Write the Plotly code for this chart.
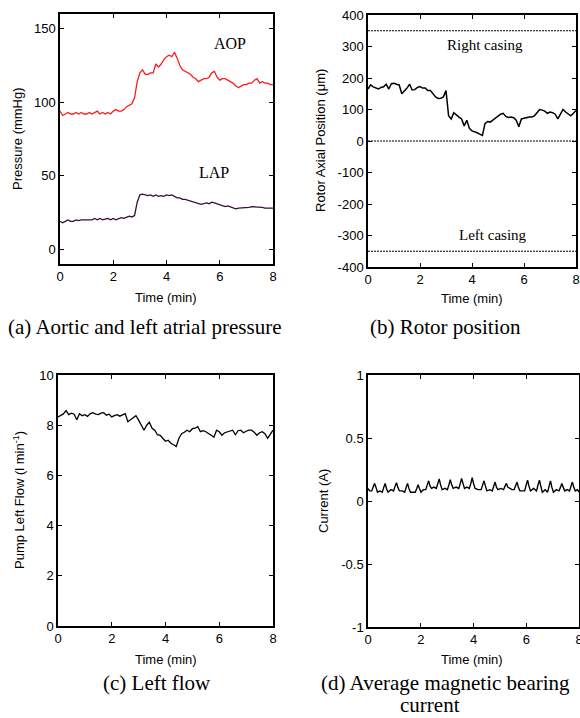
import plotly.graph_objects as go

# ---------------- data ----------------
time_min = [round(i * 0.1, 1) for i in range(81)]

aop = [94, 91, 92, 93, 92, 92, 93, 92, 93, 92,
       92, 93, 92, 93, 94, 92, 93, 92, 93, 92,
       94, 95, 94, 94, 95, 97, 98, 99, 103, 114,
       120, 122, 119, 119, 120, 120, 126, 124, 126, 129,
       131, 132, 131, 134, 130, 125, 122, 121, 120, 119,
       117, 116, 114, 115, 116, 116, 117, 120, 121, 117,
       115, 116, 116, 115, 114, 113, 111, 110, 111, 112,
       112, 113, 113, 115, 116, 113, 114, 113, 113, 112, 112]

lap = [19, 18, 19, 20, 19, 19, 20, 19.5, 20, 20,
       20, 20.5, 20, 21, 20, 21, 20, 20.5, 21, 20,
       21, 20, 21, 21.5, 21, 22, 22.5, 22, 23, 32,
       37, 37.5, 37, 36.5, 37, 36, 37, 36, 36.5, 36,
       37, 36.5, 37, 36, 35, 35, 34, 34, 33.5, 33,
       32.5, 32, 31, 30.5, 31, 31.5, 31, 32, 31.5, 31,
       30, 30, 29, 29.5, 29, 28, 27.5, 28, 28, 28.5,
       28, 28.5, 29, 29, 28.5, 29, 28.5, 28, 28, 27.5, 28]

rotor_um = [165, 178, 172, 168, 165, 170, 172, 180, 165, 182,
            183, 180, 178, 150, 158, 168, 180, 162, 163, 170,
            173, 168, 168, 160, 160, 150, 140, 135, 136, 140,
            160, 80, 70, 90, 82, 76, 70, 48, 66, 40,
            32, 30, 26, 22, 18, 55, 62, 60, 66, 72,
            80, 85, 88, 78, 75, 76, 74, 66, 45, 70,
            72, 75, 76, 76, 80, 90, 100, 98, 95, 88,
            92, 90, 85, 70, 85, 100, 92, 86, 80, 88, 97]

casing_levels = [350, 0, -350]

flow = [8.33, 8.40, 8.45, 8.58, 8.42, 8.48, 8.44, 8.22, 8.46, 8.38,
        8.42, 8.35, 8.46, 8.50, 8.44, 8.42, 8.48, 8.50, 8.40, 8.44,
        8.33, 8.38, 8.42, 8.36, 8.40, 8.46, 8.14, 8.22, 8.28, 8.38,
        8.20, 7.98, 7.80, 8.00, 8.12, 7.88, 7.80, 7.62, 7.60, 7.48,
        7.36, 7.40, 7.28, 7.22, 7.15, 7.48, 7.66, 7.72, 7.80, 7.74,
        7.86, 7.88, 7.94, 7.74, 7.78, 7.74, 7.68, 7.60, 7.52, 7.80,
        7.74, 7.60, 7.70, 7.74, 7.78, 7.80, 7.62, 7.78, 7.80, 7.70,
        7.76, 7.80, 7.80, 7.72, 7.60, 7.70, 7.74, 7.66, 7.48, 7.62, 7.80]

current_time = [0.0, 0.06,
                0.14, 0.2, 0.25, 0.3, 0.36, 0.45,
                0.54, 0.6, 0.65, 0.7, 0.76, 0.87,
                0.97, 1.03, 1.08, 1.13, 1.19, 1.3,
                1.39, 1.45, 1.5, 1.55, 1.61, 1.7,
                1.79, 1.85, 1.9, 1.95, 2.01, 2.1,
                2.19, 2.25, 2.3, 2.35, 2.41, 2.5,
                2.59, 2.65, 2.7, 2.75, 2.81, 2.92,
                3.01, 3.07, 3.12, 3.17, 3.23, 3.34,
                3.44, 3.5, 3.55, 3.6, 3.66, 3.75,
                3.84, 3.9, 3.95, 4.0, 4.06, 4.18,
                4.29, 4.35, 4.4, 4.45, 4.51, 4.62,
                4.71, 4.77, 4.82, 4.87, 4.93, 5.04,
                5.14, 5.2, 5.25, 5.3, 5.36, 5.46,
                5.54, 5.6, 5.65, 5.7, 5.76, 5.86,
                5.94, 6.0, 6.05, 6.1, 6.16, 6.28,
                6.39, 6.45, 6.5, 6.55, 6.61, 6.72,
                6.81, 6.87, 6.92, 6.97, 7.03, 7.14,
                7.24, 7.3, 7.35, 7.4, 7.46, 7.55,
                7.64, 7.7, 7.75, 7.8, 7.86, 7.94,
                8.0]
current_a = [0.10, 0.08,
             0.08, 0.115, 0.14, 0.11, 0.07, 0.08,
             0.07, 0.11, 0.14, 0.10, 0.07, 0.09,
             0.08, 0.12, 0.145, 0.11, 0.08, 0.08,
             0.07, 0.11, 0.14, 0.10, 0.07, 0.07,
             0.07, 0.10, 0.13, 0.10, 0.07, 0.09,
             0.09, 0.13, 0.16, 0.12, 0.10, 0.11,
             0.10, 0.14, 0.175, 0.13, 0.09, 0.10,
             0.09, 0.13, 0.17, 0.13, 0.10, 0.11,
             0.10, 0.14, 0.18, 0.14, 0.10, 0.11,
             0.10, 0.14, 0.185, 0.14, 0.10, 0.09,
             0.09, 0.13, 0.16, 0.12, 0.08, 0.09,
             0.08, 0.12, 0.15, 0.11, 0.09, 0.10,
             0.09, 0.12, 0.14, 0.11, 0.10, 0.09,
             0.09, 0.12, 0.15, 0.11, 0.08, 0.08,
             0.08, 0.13, 0.165, 0.12, 0.08, 0.10,
             0.08, 0.13, 0.165, 0.12, 0.07, 0.09,
             0.07, 0.12, 0.16, 0.11, 0.07, 0.09,
             0.08, 0.11, 0.14, 0.11, 0.08, 0.09,
             0.08, 0.12, 0.15, 0.11, 0.08, 0.09,
             0.07]

x_ticks = [0, 2, 4, 6, 8]
pressure_ticks = [0, 50, 100, 150]
rotor_ticks = [-400, -300, -200, -100, 0, 100, 200, 300, 400]
rotor_tick_text = ["-400", "-300", "-200", "-100", "0", "100", "200", "300", "400"]
flow_ticks = [0, 2, 4, 6, 8, 10]
current_ticks = [-1, -0.5, 0, 0.5, 1]
current_tick_text = ["-1", "-0.5", "0", "0.5", "1"]

# ---------------- figure ----------------
W, H = 580, 718
SANS = "Liberation Sans, Arial, sans-serif"
SERIF = "Liberation Serif, Times New Roman, serif"

fig = go.Figure()

fig.add_trace(go.Scatter(x=time_min, y=aop, mode="lines",
                         line=dict(color="#ff1a1a", width=1.3), xaxis="x", yaxis="y"))
fig.add_trace(go.Scatter(x=time_min, y=lap, mode="lines",
                         line=dict(color="#3b0c3b", width=1.3), xaxis="x", yaxis="y"))

for lvl in casing_levels:
    fig.add_trace(go.Scatter(x=[x_ticks[0], x_ticks[-1]], y=[lvl, lvl], mode="lines",
                             line=dict(color="black", width=1, dash="2px,1px"),
                             xaxis="x2", yaxis="y2"))
fig.add_trace(go.Scatter(x=time_min, y=rotor_um, mode="lines",
                         line=dict(color="black", width=1.5), xaxis="x2", yaxis="y2"))

fig.add_trace(go.Scatter(x=time_min, y=flow, mode="lines",
                         line=dict(color="black", width=1.3), xaxis="x3", yaxis="y3"))

fig.add_trace(go.Scatter(x=current_time, y=current_a, mode="lines",
                         line=dict(color="black", width=1.4), xaxis="x4", yaxis="y4"))


def px_x(p):
    return p / W


def px_y(p):
    return 1 - p / H


common = dict(showline=True, linecolor="black", linewidth=1.5, mirror="allticks",
              ticks="inside", ticklen=4, tickcolor="black", tickwidth=1,
              showgrid=False, zeroline=False,
              tickfont=dict(family=SANS, size=13, color="black"), automargin=False)

domains = {
    "a": dict(x=[px_x(60), px_x(273)], y=[px_y(264), px_y(14)]),
    "b": dict(x=[px_x(368), px_x(576)], y=[px_y(267), px_y(15)]),
    "c": dict(x=[px_x(58), px_x(273)], y=[px_y(626), px_y(375)]),
    "d": dict(x=[px_x(368), px_x(579)], y=[px_y(627), px_y(375)]),
}

fig.update_layout(
    width=W, height=H, margin=dict(l=0, r=0, t=0, b=0),
    paper_bgcolor="white", plot_bgcolor="white", showlegend=False,
    xaxis=dict(domain=domains["a"]["x"], anchor="y", range=[0, 8], tickvals=x_ticks, **common),
    yaxis=dict(domain=domains["a"]["y"], anchor="x", range=[-10, 160], tickvals=pressure_ticks, **common),
    xaxis2=dict(domain=domains["b"]["x"], anchor="y2", range=[0, 8], tickvals=x_ticks, **common),
    yaxis2=dict(domain=domains["b"]["y"], anchor="x2", range=[-400, 400], tickvals=rotor_ticks,
                ticktext=rotor_tick_text, **common),
    xaxis3=dict(domain=domains["c"]["x"], anchor="y3", range=[0, 8], tickvals=x_ticks, **common),
    yaxis3=dict(domain=domains["c"]["y"], anchor="x3", range=[0, 10], tickvals=flow_ticks, **common),
    xaxis4=dict(domain=domains["d"]["x"], anchor="y4", range=[0, 8], tickvals=x_ticks,
                ticklabeloverflow="allow", **common),
    yaxis4=dict(domain=domains["d"]["y"], anchor="x4", range=[-1, 1], tickvals=current_ticks,
                ticktext=current_tick_text, **common),
)

ann = []


def label(text, xp, yp, size=13, family=SANS, angle=0):
    ann.append(dict(text=text, x=px_x(xp), y=px_y(yp), xref="paper", yref="paper",
                    xanchor="center", yanchor="middle", showarrow=False, textangle=angle,
                    font=dict(family=family, size=size, color="black")))


# axis titles
label("Time (min)", 166, 297)
label("Time (min)", 472, 299)
label("Time (min)", 166, 659)
label("Time (min)", 472, 659)
label("Pressure (mmHg)", 18, 139, angle=-90)
label("Rotor Axial Position (μm)", 320, 141, angle=-90)
label("Pump Left Flow (l min<sup>-1</sup>)", 19, 500, angle=-90)
label("Current (A)", 323, 501, angle=-90)

# captions
label("(a) Aortic and left atrial pressure", 144, 327, size=21, family=SERIF)
label("(b) Rotor position", 445, 327, size=21, family=SERIF)
label("(c) Left flow", 157, 683, size=21, family=SERIF)
label("(d) Average magnetic bearing", 445, 683, size=21, family=SERIF)
label("current", 430, 705, size=21, family=SERIF)

fig.update_layout(annotations=ann)

# in-plot labels (data coordinates)
fig.add_annotation(text="AOP", x=6.4, y=140, xref="x", yref="y", showarrow=False,
                   font=dict(family=SERIF, size=16, color="black"))
fig.add_annotation(text="LAP", x=5.8, y=52, xref="x", yref="y", showarrow=False,
                   font=dict(family=SERIF, size=16, color="black"))
fig.add_annotation(text="Right casing", x=4.5, y=305, xref="x2", yref="y2", showarrow=False,
                   font=dict(family=SERIF, size=15, color="black"))
fig.add_annotation(text="Left casing", x=4.8, y=-298, xref="x2", yref="y2", showarrow=False,
                   font=dict(family=SERIF, size=15, color="black"))

fig.write_html("out.html",
               config={"displayModeBar": False},
               post_script="document.body.style.margin='0';document.body.style.padding='0';"
                           "document.body.style.overflow='hidden';")
